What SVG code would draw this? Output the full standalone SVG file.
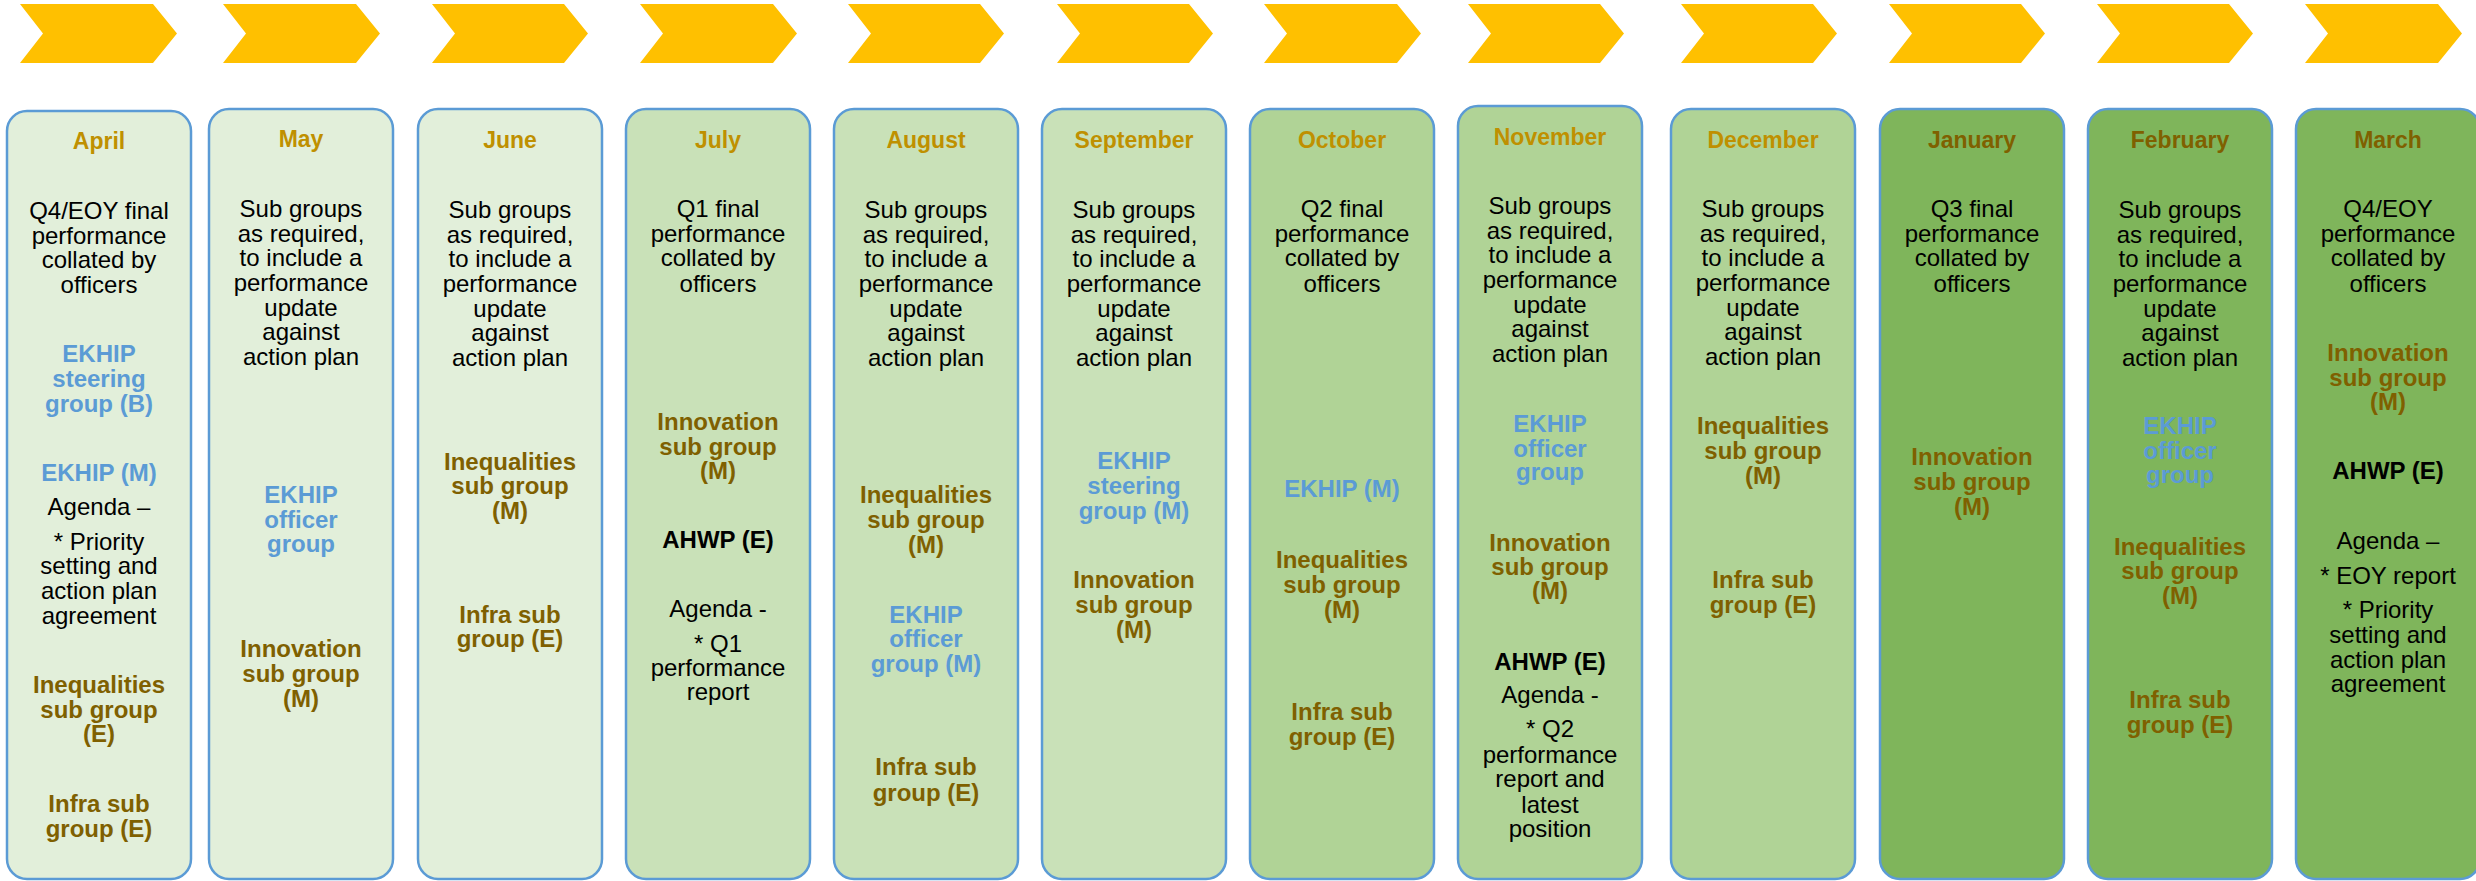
<svg xmlns="http://www.w3.org/2000/svg" width="2476" height="881" viewBox="0 0 2476 881">
<style>
text{font-family:"Liberation Sans",Arial,sans-serif;font-size:24px;text-anchor:middle}
.box{stroke:#5B9BD5;stroke-width:2.5}
.c1{fill:#E2EFDA}.c2{fill:#C9E1B8}.c3{fill:#B0D396}.c4{fill:#7FB55B}
.chev{fill:#FFC000}
.m{font-weight:bold;fill:#BF9000;font-size:23px}
.m2{font-weight:bold;fill:#7F6000;font-size:23px}
.t{fill:#000}
.b{font-weight:bold;fill:#7F6000}
.e{font-weight:bold;fill:#5B9BD5}
.k{font-weight:bold;fill:#000}
</style>
<rect width="2476" height="881" fill="#fff"/>
<g id="chevrons">
<path class="chev" d="M20,4H153L177,33.5L153,63H20L43,33.5Z"/>
<path class="chev" d="M223,4H356L380,33.5L356,63H223L246,33.5Z"/>
<path class="chev" d="M432,4H564L588,33.5L564,63H432L455,33.5Z"/>
<path class="chev" d="M640,4H773L797,33.5L773,63H640L663,33.5Z"/>
<path class="chev" d="M848,4H980L1004,33.5L980,63H848L871,33.5Z"/>
<path class="chev" d="M1057,4H1189L1213,33.5L1189,63H1057L1080,33.5Z"/>
<path class="chev" d="M1264,4H1397L1421,33.5L1397,63H1264L1287,33.5Z"/>
<path class="chev" d="M1468,4H1600L1624,33.5L1600,63H1468L1491,33.5Z"/>
<path class="chev" d="M1681,4H1813L1837,33.5L1813,63H1681L1704,33.5Z"/>
<path class="chev" d="M1889,4H2021L2045,33.5L2021,63H1889L1912,33.5Z"/>
<path class="chev" d="M2097,4H2229L2253,33.5L2229,63H2097L2120,33.5Z"/>
<path class="chev" d="M2305,4H2438L2462,33.5L2438,63H2305L2328,33.5Z"/>
</g>
<g id="connectors"></g>
<g id="april">
<rect class="box c1" x="7" y="111" width="184" height="768" rx="20"/>
<text class="m" x="99" y="149">April</text>
<text class="t"><tspan x="99" y="219">Q4/EOY final</tspan><tspan x="99" y="244">performance</tspan><tspan x="99" y="268">collated by</tspan><tspan x="99" y="293">officers</tspan></text>
<text class="e"><tspan x="99" y="362">EKHIP</tspan><tspan x="99" y="387">steering</tspan><tspan x="99" y="412">group (B)</tspan></text>
<text class="e" x="99" y="481">EKHIP (M)</text>
<text class="t"><tspan x="99" y="515">Agenda –</tspan><tspan x="99" y="550">* Priority</tspan><tspan x="99" y="574">setting and</tspan><tspan x="99" y="599">action plan</tspan><tspan x="99" y="624">agreement</tspan></text>
<text class="b"><tspan x="99" y="693">Inequalities</tspan><tspan x="99" y="718">sub group</tspan><tspan x="99" y="742">(E)</tspan></text>
<text class="b"><tspan x="99" y="812">Infra sub</tspan><tspan x="99" y="837">group (E)</tspan></text>
</g>
<g id="may">
<rect class="box c1" x="209" y="109" width="184" height="770" rx="20"/>
<text class="m" x="301" y="147">May</text>
<text class="t"><tspan x="301" y="217">Sub groups</tspan><tspan x="301" y="242">as required,</tspan><tspan x="301" y="266">to include a</tspan><tspan x="301" y="291">performance</tspan><tspan x="301" y="316">update</tspan><tspan x="301" y="340">against</tspan><tspan x="301" y="365">action plan</tspan></text>
<text class="e"><tspan x="301" y="503">EKHIP</tspan><tspan x="301" y="528">officer</tspan><tspan x="301" y="552">group</tspan></text>
<text class="b"><tspan x="301" y="657">Innovation</tspan><tspan x="301" y="682">sub group</tspan><tspan x="301" y="707">(M)</tspan></text>
</g>
<g id="june">
<rect class="box c1" x="418" y="109" width="184" height="770" rx="20"/>
<text class="m" x="510" y="148">June</text>
<text class="t"><tspan x="510" y="218">Sub groups</tspan><tspan x="510" y="243">as required,</tspan><tspan x="510" y="267">to include a</tspan><tspan x="510" y="292">performance</tspan><tspan x="510" y="317">update</tspan><tspan x="510" y="341">against</tspan><tspan x="510" y="366">action plan</tspan></text>
<text class="b"><tspan x="510" y="470">Inequalities</tspan><tspan x="510" y="494">sub group</tspan><tspan x="510" y="519">(M)</tspan></text>
<text class="b"><tspan x="510" y="623">Infra sub</tspan><tspan x="510" y="647">group (E)</tspan></text>
</g>
<g id="july">
<rect class="box c2" x="626" y="109" width="184" height="770" rx="20"/>
<text class="m" x="718" y="148">July</text>
<text class="t"><tspan x="718" y="217">Q1 final</tspan><tspan x="718" y="242">performance</tspan><tspan x="718" y="266">collated by</tspan><tspan x="718" y="292">officers</tspan></text>
<text class="b"><tspan x="718" y="430">Innovation</tspan><tspan x="718" y="455">sub group</tspan><tspan x="718" y="479">(M)</tspan></text>
<text class="k" x="718" y="548">AHWP (E)</text>
<text class="t"><tspan x="718" y="617">Agenda -</tspan><tspan x="718" y="652">* Q1</tspan><tspan x="718" y="676">performance</tspan><tspan x="718" y="700">report</tspan></text>
</g>
<g id="august">
<rect class="box c2" x="834" y="109" width="184" height="770" rx="20"/>
<text class="m" x="926" y="148">August</text>
<text class="t"><tspan x="926" y="218">Sub groups</tspan><tspan x="926" y="243">as required,</tspan><tspan x="926" y="267">to include a</tspan><tspan x="926" y="292">performance</tspan><tspan x="926" y="317">update</tspan><tspan x="926" y="341">against</tspan><tspan x="926" y="366">action plan</tspan></text>
<text class="b"><tspan x="926" y="503">Inequalities</tspan><tspan x="926" y="528">sub group</tspan><tspan x="926" y="553">(M)</tspan></text>
<text class="e"><tspan x="926" y="623">EKHIP</tspan><tspan x="926" y="647">officer</tspan><tspan x="926" y="672">group (M)</tspan></text>
<text class="b"><tspan x="926" y="775">Infra sub</tspan><tspan x="926" y="801">group (E)</tspan></text>
</g>
<g id="september">
<rect class="box c2" x="1042" y="109" width="184" height="770" rx="20"/>
<text class="m" x="1134" y="148">September</text>
<text class="t"><tspan x="1134" y="218">Sub groups</tspan><tspan x="1134" y="243">as required,</tspan><tspan x="1134" y="267">to include a</tspan><tspan x="1134" y="292">performance</tspan><tspan x="1134" y="317">update</tspan><tspan x="1134" y="341">against</tspan><tspan x="1134" y="366">action plan</tspan></text>
<text class="e"><tspan x="1134" y="469">EKHIP</tspan><tspan x="1134" y="494">steering</tspan><tspan x="1134" y="519">group (M)</tspan></text>
<text class="b"><tspan x="1134" y="588">Innovation</tspan><tspan x="1134" y="613">sub group</tspan><tspan x="1134" y="638">(M)</tspan></text>
</g>
<g id="october">
<rect class="box c3" x="1250" y="109" width="184" height="770" rx="20"/>
<text class="m" x="1342" y="148">October</text>
<text class="t"><tspan x="1342" y="217">Q2 final</tspan><tspan x="1342" y="242">performance</tspan><tspan x="1342" y="266">collated by</tspan><tspan x="1342" y="292">officers</tspan></text>
<text class="e" x="1342" y="497">EKHIP (M)</text>
<text class="b"><tspan x="1342" y="568">Inequalities</tspan><tspan x="1342" y="593">sub group</tspan><tspan x="1342" y="618">(M)</tspan></text>
<text class="b"><tspan x="1342" y="720">Infra sub</tspan><tspan x="1342" y="745">group (E)</tspan></text>
</g>
<g id="november">
<rect class="box c3" x="1458" y="106" width="184" height="773" rx="20"/>
<text class="m" x="1550" y="145">November</text>
<text class="t"><tspan x="1550" y="214">Sub groups</tspan><tspan x="1550" y="239">as required,</tspan><tspan x="1550" y="263">to include a</tspan><tspan x="1550" y="288">performance</tspan><tspan x="1550" y="313">update</tspan><tspan x="1550" y="337">against</tspan><tspan x="1550" y="362">action plan</tspan></text>
<text class="e"><tspan x="1550" y="432">EKHIP</tspan><tspan x="1550" y="457">officer</tspan><tspan x="1550" y="480">group</tspan></text>
<text class="b"><tspan x="1550" y="551">Innovation</tspan><tspan x="1550" y="575">sub group</tspan><tspan x="1550" y="599">(M)</tspan></text>
<text class="k" x="1550" y="670">AHWP (E)</text>
<text class="t"><tspan x="1550" y="703">Agenda -</tspan><tspan x="1550" y="737">* Q2</tspan><tspan x="1550" y="763">performance</tspan><tspan x="1550" y="787">report and</tspan><tspan x="1550" y="813">latest</tspan><tspan x="1550" y="837">position</tspan></text>
</g>
<g id="december">
<rect class="box c3" x="1671" y="109" width="184" height="770" rx="20"/>
<text class="m" x="1763" y="148">December</text>
<text class="t"><tspan x="1763" y="217">Sub groups</tspan><tspan x="1763" y="242">as required,</tspan><tspan x="1763" y="266">to include a</tspan><tspan x="1763" y="291">performance</tspan><tspan x="1763" y="316">update</tspan><tspan x="1763" y="340">against</tspan><tspan x="1763" y="365">action plan</tspan></text>
<text class="b"><tspan x="1763" y="434">Inequalities</tspan><tspan x="1763" y="459">sub group</tspan><tspan x="1763" y="484">(M)</tspan></text>
<text class="b"><tspan x="1763" y="588">Infra sub</tspan><tspan x="1763" y="613">group (E)</tspan></text>
</g>
<g id="january">
<rect class="box c4" x="1880" y="109" width="184" height="770" rx="20"/>
<text class="m2" x="1972" y="148">January</text>
<text class="t"><tspan x="1972" y="217">Q3 final</tspan><tspan x="1972" y="242">performance</tspan><tspan x="1972" y="266">collated by</tspan><tspan x="1972" y="292">officers</tspan></text>
<text class="b"><tspan x="1972" y="465">Innovation</tspan><tspan x="1972" y="490">sub group</tspan><tspan x="1972" y="515">(M)</tspan></text>
</g>
<g id="february">
<rect class="box c4" x="2088" y="109" width="184" height="770" rx="20"/>
<text class="m2" x="2180" y="148">February</text>
<text class="t"><tspan x="2180" y="218">Sub groups</tspan><tspan x="2180" y="243">as required,</tspan><tspan x="2180" y="267">to include a</tspan><tspan x="2180" y="292">performance</tspan><tspan x="2180" y="317">update</tspan><tspan x="2180" y="341">against</tspan><tspan x="2180" y="366">action plan</tspan></text>
<text class="e"><tspan x="2180" y="434">EKHIP</tspan><tspan x="2180" y="459">officer</tspan><tspan x="2180" y="483">group</tspan></text>
<text class="b"><tspan x="2180" y="555">Inequalities</tspan><tspan x="2180" y="579">sub group</tspan><tspan x="2180" y="604">(M)</tspan></text>
<text class="b"><tspan x="2180" y="708">Infra sub</tspan><tspan x="2180" y="733">group (E)</tspan></text>
</g>
<g id="march">
<rect class="box c4" x="2296" y="109" width="184" height="770" rx="20"/>
<text class="m2" x="2388" y="148">March</text>
<text class="t"><tspan x="2388" y="217">Q4/EOY</tspan><tspan x="2388" y="242">performance</tspan><tspan x="2388" y="266">collated by</tspan><tspan x="2388" y="292">officers</tspan></text>
<text class="b"><tspan x="2388" y="361">Innovation</tspan><tspan x="2388" y="386">sub group</tspan><tspan x="2388" y="410">(M)</tspan></text>
<text class="k" x="2388" y="479">AHWP (E)</text>
<text class="t"><tspan x="2388" y="549">Agenda –</tspan><tspan x="2388" y="584">* EOY report</tspan><tspan x="2388" y="618">* Priority</tspan><tspan x="2388" y="643">setting and</tspan><tspan x="2388" y="668">action plan</tspan><tspan x="2388" y="692">agreement</tspan></text>
</g>
</svg>
